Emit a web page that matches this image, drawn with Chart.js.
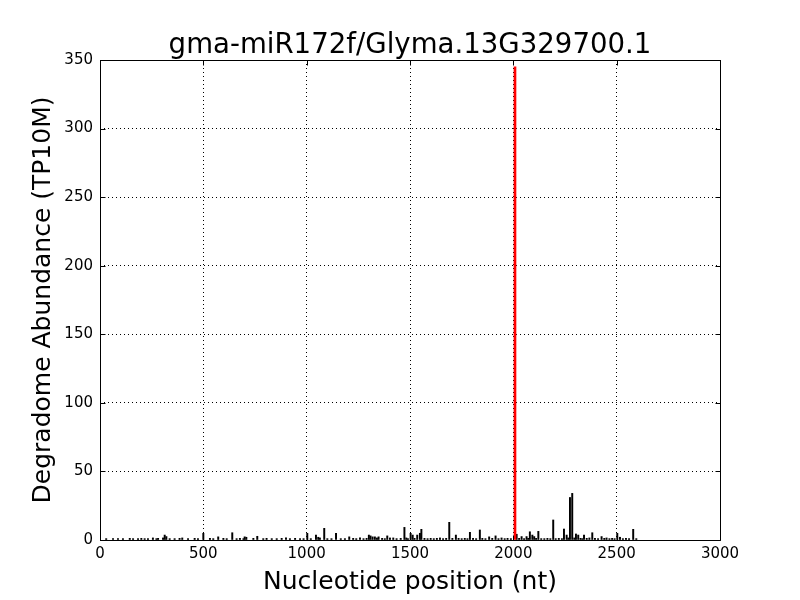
<!DOCTYPE html>
<html>
<head>
<meta charset="utf-8">
<script src="https://cdn.jsdelivr.net/npm/chart.js@4"></script>
<style>
  html, body { margin: 0; padding: 0; background: #fff; }
  #wrap { width: 800px; height: 600px; }
</style>
</head>
<body>
<div id="wrap"><canvas id="c" width="800" height="600"></canvas></div>
<script>
const chartTitle = "gma-miR172f/Glyma.13G329700.1";
const xLabel = "Nucleotide position (nt)";
const yLabel = "Degradome Abundance (TP10M)";
const xTicks = [0, 500, 1000, 1500, 2000, 2500, 3000];
const yTicks = [0, 50, 100, 150, 200, 250, 300, 350];

const positions = [30, 63, 87, 111, 144, 160, 184, 200, 216, 232, 256, 273, 281, 305, 313, 321, 337, 361, 385, 398, 426, 458, 474, 500, 532, 548, 572, 597, 613, 640, 661, 677, 694, 700, 708, 742, 761, 790, 806, 831, 855, 879, 900, 919, 944, 968, 985, 1003, 1020, 1045, 1056, 1064, 1085, 1100, 1120, 1142, 1165, 1185, 1206, 1225, 1240, 1258, 1275, 1290, 1301, 1309, 1319, 1330, 1340, 1348, 1365, 1378, 1390, 1403, 1419, 1435, 1455, 1473, 1482, 1490, 1503, 1513, 1522, 1535, 1548, 1555, 1570, 1585, 1600, 1615, 1630, 1645, 1660, 1675, 1690, 1705, 1722, 1735, 1750, 1765, 1778, 1790, 1805, 1820, 1838, 1850, 1865, 1883, 1898, 1914, 1928, 1943, 1958, 1972, 1988, 2016, 2028, 2040, 2052, 2064, 2072, 2080, 2092, 2101, 2110, 2121, 2135, 2150, 2165, 2179, 2193, 2205, 2220, 2235, 2245, 2258, 2266, 2274, 2285, 2295, 2303, 2314, 2325, 2334, 2342, 2355, 2368, 2382, 2395, 2410, 2427, 2440, 2451, 2465, 2478, 2490, 2503, 2516, 2530, 2545, 2560, 2580, 2595];
const abundance = [1, 1, 1, 1, 1.2, 1, 1, 1.2, 1, 1, 1.5, 1, 1.2, 1.5, 3.6, 2.5, 1, 1, 1.2, 1.5, 1, 1.2, 1, 4.9, 1.2, 1, 2.3, 1.2, 1, 5.3, 1, 1.2, 1, 2.3, 2, 1.2, 2.7, 1, 1.2, 1, 1, 1.2, 1.5, 1, 1.2, 1, 1, 4.9, 1, 3.6, 2, 1.5, 8.5, 1, 1, 4.9, 1, 1, 2.3, 1.2, 1, 1.5, 1, 1.2, 3.6, 3, 2.3, 2.3, 1.5, 2.3, 1.2, 1, 3, 1.5, 1.5, 1, 1.2, 9.2, 1.5, 1, 4.9, 3.6, 1.2, 3.6, 4.9, 7.8, 1.2, 1, 1.2, 1, 1.2, 1.5, 1, 1.2, 12.9, 1.2, 3.6, 1.2, 1, 1.2, 1, 5.6, 1.2, 1, 7.3, 1.2, 1, 2.3, 1.2, 3, 1, 1.5, 1, 1.2, 1, 4.2, 1.2, 2.5, 1, 2.5, 1.2, 6, 3.6, 2.5, 1.2, 6.3, 1, 1, 1.2, 1, 14.6, 1, 1.2, 1, 8, 3.6, 1.5, 31, 34, 1.5, 4.4, 3.6, 1.2, 1, 3.6, 1.2, 1.5, 5.3, 1.2, 1, 2.5, 1.2, 1.5, 1, 1.2, 1, 4.9, 2, 1, 1.2, 1, 7.8, 1];
const cleavagePositions = [2008];
const cleavageAbundance = [345];

const FONT = "'DejaVu Sans', 'Liberation Sans', sans-serif";

const framePlugin = {
  id: 'frame',
  afterDatasetsDraw(chart) {
    const ctx = chart.ctx;
    const xs = chart.scales.x, ys = chart.scales.y;
    ctx.save();
    ctx.strokeStyle = '#000';
    ctx.lineWidth = 1;
    ctx.beginPath();
    const L = Math.round(xs.getPixelForValue(xs.min)) + 0.5;
    const R = Math.round(xs.getPixelForValue(xs.max)) + 0.5;
    const T = Math.round(ys.getPixelForValue(ys.max)) + 0.5;
    const B = Math.round(ys.getPixelForValue(ys.min)) + 0.5;
    ctx.rect(L, T, R - L, B - T);
    const tl = 5;
    xTicks.forEach(v => {
      const px = Math.round(xs.getPixelForValue(v)) + 0.5;
      ctx.moveTo(px, B); ctx.lineTo(px, B - tl);
      ctx.moveTo(px, T); ctx.lineTo(px, T + tl);
    });
    yTicks.forEach(v => {
      const py = Math.round(ys.getPixelForValue(v)) + 0.5;
      ctx.moveTo(L, py); ctx.lineTo(L + tl, py);
      ctx.moveTo(R, py); ctx.lineTo(R - tl, py);
    });
    ctx.stroke();
    ctx.restore();
  },
  afterDraw(chart) {
    const ctx = chart.ctx;
    const a = chart.chartArea;
    const cx = (a.left + a.right) / 2;
    ctx.save();
    ctx.fillStyle = '#000';
    ctx.textAlign = 'center';
    ctx.textBaseline = 'alphabetic';
    ctx.font = "27.6px " + FONT;
    ctx.fillText(chartTitle, cx, 53);
    ctx.font = "25px " + FONT;
    ctx.fillText(xLabel, cx, 589);
    ctx.translate(50, (a.top + a.bottom) / 2);
    ctx.rotate(-Math.PI / 2);
    ctx.fillText(yLabel, 0, 0);
    ctx.restore();
  }
};

new Chart(document.getElementById('c'), {
  type: 'bar',
  data: {
    datasets: [
      {
        data: positions.map((p, i) => ({ x: p, y: abundance[i] })),
        backgroundColor: '#000',
        borderWidth: 0,
        barThickness: 1.3,
        grouped: false,
        order: 2
      },
      {
        data: cleavagePositions.map((p, i) => ({ x: p, y: cleavageAbundance[i] })),
        backgroundColor: '#ff0000',
        borderWidth: 0,
        barThickness: 2,
        grouped: false,
        order: 1
      }
    ]
  },
  options: {
    responsive: false,
    animation: false,
    devicePixelRatio: 1,
    layout: { padding: { top: 60, right: 80, left: 0, bottom: 0 } },
    plugins: { legend: { display: false }, tooltip: { enabled: false }, title: { display: false } },
    scales: {
      x: {
        type: 'linear',
        offset: false,
        min: 0, max: 3000,
        afterFit(s) { s.height = 60; },
        afterBuildTicks(s) { s.ticks = xTicks.map(v => ({ value: v })); },
        ticks: { color: '#000', font: { family: FONT, size: 15 }, padding: 5, maxRotation: 0, autoSkip: false, callback: v => String(v) },
        grid: { color: '#000', lineWidth: 1, drawTicks: false, offset: false },
        border: { display: false, dash: [1, 3] }
      },
      y: {
        type: 'linear',
        min: 0, max: 350,
        afterFit(s) { s.width = 100; },
        afterBuildTicks(s) { s.ticks = yTicks.map(v => ({ value: v })); },
        ticks: { color: '#000', font: { family: FONT, size: 15 }, padding: 7, autoSkip: false, callback: v => String(v) },
        grid: { color: '#000', lineWidth: 1, drawTicks: false },
        border: { display: false, dash: [1, 3] }
      }
    }
  },
  plugins: [framePlugin]
});
</script>
</body>
</html>
